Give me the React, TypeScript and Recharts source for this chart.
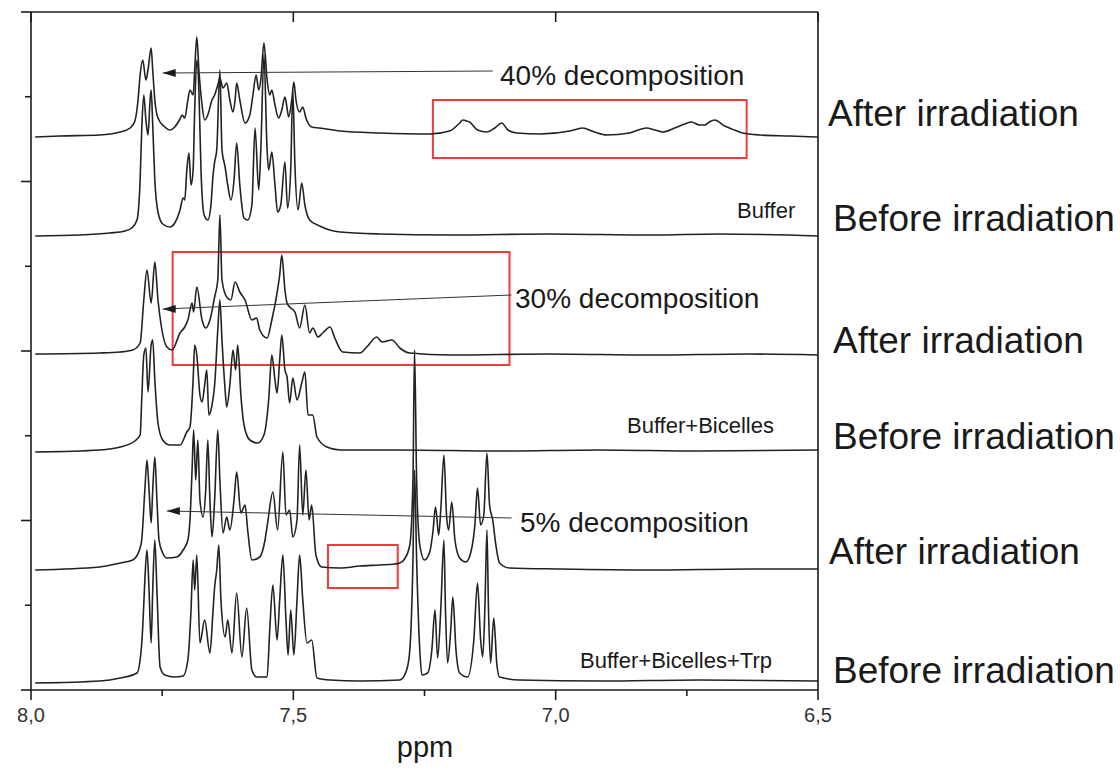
import React from "react";
import {
  LineChart,
  Line,
  XAxis,
  YAxis,
  ReferenceArea,
  ReferenceLine,
  ReferenceDot,
} from "recharts";

type Pt = [number, number];

// [chemical shift (ppm), intensity above the trace's own baseline (a.u.)]
const afterBuffer: Pt[] = [
  [7.992, 0], [7.945, 1], [7.869, 2], [7.83, 5], [7.811, 9], [7.802, 16], [7.796, 37],
  [7.792, 62], [7.787, 77], [7.781, 57], [7.777, 67], [7.771, 89], [7.768, 67], [7.764, 37],
  [7.758, 19], [7.745, 10], [7.735, 7], [7.726, 10], [7.716, 18], [7.712, 22], [7.707, 19],
  [7.701, 37], [7.697, 47], [7.691, 42], [7.688, 67], [7.684, 100], [7.68, 67], [7.674, 32],
  [7.669, 17], [7.663, 22], [7.655, 37], [7.65, 42], [7.644, 52], [7.64, 59], [7.634, 49],
  [7.627, 54], [7.621, 37], [7.615, 25], [7.611, 37], [7.608, 54], [7.602, 37], [7.592, 14],
  [7.583, 22], [7.577, 42], [7.571, 62], [7.566, 47], [7.562, 57], [7.556, 94], [7.55, 57],
  [7.545, 42], [7.541, 47], [7.535, 32], [7.528, 19], [7.522, 27], [7.516, 40], [7.512, 29],
  [7.509, 20], [7.503, 37], [7.499, 55], [7.495, 37], [7.488, 25], [7.482, 30], [7.476, 19],
  [7.465, 10], [7.45, 9], [7.411, 6], [7.335, 4], [7.24, 3], [7.202, 6], [7.183, 14],
  [7.177, 17], [7.17, 16], [7.164, 15], [7.149, 7], [7.131, 5], [7.116, 9], [7.103, 14],
  [7.091, 7], [7.074, 4], [7.03, 3], [6.973, 6], [6.949, 9], [6.926, 5], [6.903, 2],
  [6.859, 4], [6.827, 9], [6.811, 7], [6.796, 5], [6.773, 9], [6.754, 13], [6.741, 15],
  [6.726, 12], [6.716, 12], [6.707, 15], [6.697, 17], [6.678, 11], [6.659, 7], [6.644, 4],
  [6.611, 2], [6.554, 1], [6.5, 0],
];

const beforeBuffer: Pt[] = [
  [7.992, -2], [7.907, -1], [7.85, 1], [7.821, 3], [7.808, 6], [7.798, 14], [7.792, 54],
  [7.789, 104], [7.785, 139], [7.781, 114], [7.777, 99], [7.773, 134], [7.771, 144],
  [7.768, 109], [7.764, 54], [7.758, 22], [7.749, 10], [7.735, 7], [7.726, 11], [7.716, 24],
  [7.71, 36], [7.707, 34], [7.703, 64], [7.699, 81], [7.695, 49], [7.691, 64], [7.688, 124],
  [7.684, 174], [7.68, 144], [7.676, 64], [7.67, 19], [7.663, 14], [7.657, 29], [7.653, 59],
  [7.65, 72], [7.646, 84], [7.64, 164], [7.636, 84], [7.63, 67], [7.625, 49], [7.619, 34],
  [7.613, 54], [7.608, 91], [7.602, 49], [7.594, 16], [7.587, 14], [7.579, 29], [7.573, 106],
  [7.566, 44], [7.562, 84], [7.556, 179], [7.55, 84], [7.547, 64], [7.541, 82], [7.535, 49],
  [7.53, 22], [7.524, 29], [7.516, 72], [7.511, 26], [7.505, 64], [7.501, 144], [7.497, 69],
  [7.491, 24], [7.484, 51], [7.478, 29], [7.469, 14], [7.45, 8], [7.411, 2], [7.335, 0],
  [7.202, -1], [7.011, 0], [6.821, -1], [6.688, 0], [6.5, -2],
];

const afterBicelles: Pt[] = [
  [7.992, 0], [7.869, 1], [7.83, 2], [7.806, 4], [7.792, 11], [7.785, 54], [7.779, 84],
  [7.771, 51], [7.764, 92], [7.758, 54], [7.752, 29], [7.741, 7], [7.731, 4], [7.716, 21],
  [7.707, 27], [7.701, 34], [7.693, 51], [7.69, 42], [7.684, 67], [7.674, 34], [7.667, 26],
  [7.659, 34], [7.65, 57], [7.644, 74], [7.64, 139], [7.636, 74], [7.627, 57], [7.619, 54],
  [7.611, 72], [7.602, 62], [7.592, 54], [7.579, 34], [7.57, 36], [7.564, 24], [7.55, 16],
  [7.541, 34], [7.531, 61], [7.526, 79], [7.522, 99], [7.516, 64], [7.512, 51], [7.507, 47],
  [7.497, 42], [7.488, 26], [7.478, 49], [7.469, 21], [7.463, 26], [7.453, 17], [7.444, 21],
  [7.43, 27], [7.421, 16], [7.406, 2], [7.373, 1], [7.36, 7], [7.341, 17], [7.331, 12],
  [7.312, 14], [7.297, 6], [7.278, 1], [7.202, -1], [7.011, 0], [6.821, -1], [6.63, 0],
  [6.5, -1],
];

const beforeBicelles: Pt[] = [
  [7.992, -2], [7.869, 0], [7.83, 3], [7.802, 9], [7.792, 15], [7.789, 50], [7.785, 95],
  [7.781, 102], [7.777, 58], [7.771, 105], [7.768, 110], [7.764, 70], [7.758, 27],
  [7.749, 10], [7.735, 5], [7.716, 5], [7.703, 18], [7.697, 23], [7.691, 70], [7.688, 105],
  [7.684, 95], [7.678, 55], [7.674, 48], [7.669, 65], [7.665, 80], [7.661, 35], [7.655, 45],
  [7.65, 65], [7.644, 120], [7.64, 150], [7.636, 110], [7.63, 60], [7.627, 43], [7.621, 65],
  [7.615, 100], [7.61, 80], [7.606, 105], [7.6, 55], [7.594, 25], [7.583, 10], [7.568, 7],
  [7.556, 15], [7.547, 50], [7.541, 95], [7.535, 70], [7.531, 57], [7.526, 90], [7.522, 115],
  [7.516, 80], [7.512, 73], [7.507, 47], [7.501, 72], [7.493, 50], [7.484, 67], [7.478, 78],
  [7.472, 35], [7.463, 35], [7.455, 13], [7.436, 3], [7.411, 0], [7.297, 0], [7.107, -1],
  [6.916, 0], [6.726, -1], [6.5, 0],
];

const afterTrp: Pt[] = [
  [7.992, -1], [7.869, 2], [7.83, 6], [7.806, 9], [7.792, 21], [7.789, 29], [7.783, 79],
  [7.779, 109], [7.775, 79], [7.771, 46], [7.768, 79], [7.764, 112], [7.76, 69], [7.756, 29],
  [7.749, 16], [7.741, 11], [7.722, 12], [7.71, 19], [7.701, 29], [7.697, 49], [7.693, 99],
  [7.69, 139], [7.686, 89], [7.682, 129], [7.678, 69], [7.672, 52], [7.667, 79], [7.663, 129],
  [7.659, 69], [7.655, 32], [7.65, 69], [7.644, 139], [7.64, 89], [7.634, 36], [7.627, 52],
  [7.621, 39], [7.613, 69], [7.608, 97], [7.6, 56], [7.592, 64], [7.587, 39], [7.579, 9],
  [7.564, 12], [7.554, 29], [7.549, 46], [7.539, 77], [7.53, 39], [7.52, 117], [7.514, 54],
  [7.507, 59], [7.501, 32], [7.493, 49], [7.488, 124], [7.482, 54], [7.476, 99], [7.47, 49],
  [7.465, 64], [7.457, 14], [7.446, 2], [7.411, 1], [7.373, 3], [7.335, 4], [7.307, 5],
  [7.297, 6], [7.288, 10], [7.278, 24], [7.272, 89], [7.269, 219], [7.265, 89], [7.259, 24],
  [7.25, 9], [7.24, 17], [7.234, 37], [7.229, 62], [7.223, 34], [7.219, 59], [7.213, 114],
  [7.208, 54], [7.204, 39], [7.198, 67], [7.192, 29], [7.183, 11], [7.171, 7], [7.162, 16],
  [7.154, 44], [7.149, 81], [7.143, 44], [7.137, 54], [7.131, 116], [7.126, 64], [7.12, 49],
  [7.114, 24], [7.107, 6], [7.088, 1], [6.992, 0], [6.821, -1], [6.63, 0], [6.5, 0],
];

const beforeTrp: Pt[] = [
  [7.992, -1], [7.869, 1], [7.83, 4], [7.798, 9], [7.79, 32], [7.787, 55], [7.783, 102],
  [7.779, 132], [7.775, 92], [7.771, 39], [7.768, 92], [7.764, 142], [7.76, 92], [7.754, 15],
  [7.745, 7], [7.726, 5], [7.71, 6], [7.701, 22], [7.695, 72], [7.691, 122], [7.688, 92],
  [7.684, 127], [7.678, 39], [7.669, 62], [7.659, 29], [7.653, 72], [7.65, 95], [7.646, 112],
  [7.642, 137], [7.638, 82], [7.63, 45], [7.625, 62], [7.617, 29], [7.608, 89], [7.598, 25],
  [7.589, 74], [7.579, 12], [7.57, 5], [7.55, 5], [7.545, 52], [7.539, 97], [7.531, 42],
  [7.526, 82], [7.52, 127], [7.514, 62], [7.51, 27], [7.505, 72], [7.499, 27], [7.493, 82],
  [7.488, 127], [7.482, 82], [7.474, 39], [7.465, 42], [7.455, 4], [7.43, 2], [7.373, 1],
  [7.297, 2], [7.284, 12], [7.278, 32], [7.272, 122], [7.269, 212], [7.265, 122], [7.259, 32],
  [7.255, 7], [7.244, 9], [7.236, 32], [7.23, 72], [7.225, 24], [7.219, 72], [7.213, 142],
  [7.21, 72], [7.206, 19], [7.2, 52], [7.196, 85], [7.19, 32], [7.183, 9], [7.168, 5],
  [7.156, 42], [7.149, 99], [7.143, 42], [7.139, 25], [7.135, 72], [7.131, 152], [7.128, 72],
  [7.124, 19], [7.118, 64], [7.112, 17], [7.107, 5], [7.069, 2], [6.916, 1], [6.726, 2],
  [6.5, 1],
];

const traceSeries: Pt[][] = [afterBuffer, beforeBuffer, afterBicelles, beforeBicelles, afterTrp, beforeTrp];
const traceOffsets = [553, 456, 336, 240, 121, 8];

const xTicks = [8, 7.75, 7.5, 7.25, 7, 6.75, 6.5];
const xMajor = [8, 7.5, 7, 6.5];
const yTicks = [0, 84.75, 169.5, 254.25, 339, 423.75, 508.5, 593.25, 678];

const sideLabels = [
  "After irradiation", "Before irradiation", "After irradiation",
  "Before irradiation", "After irradiation", "Before irradiation",
];
const sampleLabels = ["Buffer", "Buffer+Bicelles", "Buffer+Bicelles+Trp"];

// arrows: [ppm, intensity] tail -> tip
const arrows = [
  { text: "40% decomposition", from: [7.12, 619], to: [7.749, 617] },
  { text: "30% decomposition", from: [7.084, 395], to: [7.749, 381] },
  { text: "5% decomposition", from: [7.084, 172], to: [7.741, 179] },
];

const boxes = [
  { x1: 7.234, x2: 6.636, y1: 532, y2: 590 },
  { x1: 7.73, x2: 7.088, y1: 325, y2: 438 },
  { x1: 7.434, x2: 7.301, y1: 102, y2: 145 },
];

const FONT = "'Liberation Sans', Arial, Helvetica, sans-serif";
const INK = "#1c1c1c";

const fmt = (v: number) => v.toFixed(1).replace(".", ",");

const XTick = (props: any) => {
  const { x, y, payload } = props;
  const major = xMajor.some((m) => Math.abs(m - payload.value) < 1e-6);
  return (
    <g>
      <line x1={x} x2={x} y1={y} y2={y + (major ? 10 : 6)} stroke={INK} strokeWidth={1.6} />
      {major && (
        <text x={x} y={y + 32} textAnchor="middle" fontSize={20} fontFamily={FONT} fill="#333">
          {fmt(payload.value)}
        </text>
      )}
    </g>
  );
};

const TopTick = (props: any) => {
  const { x, y } = props;
  return <line x1={x} x2={x} y1={y} y2={y + 10} stroke={INK} strokeWidth={1.6} />;
};

const YTick = (props: any) => {
  const { x, y, index } = props;
  const len = index % 2 === 0 ? 10 : 6;
  return <line x1={x - len} x2={x} y1={y} y2={y} stroke={INK} strokeWidth={1.6} />;
};

const ArrowHead = (props: any) => {
  const { cx, cy } = props;
  if (cx == null || cy == null) return null;
  return <polygon points={`${cx},${cy} ${cx + 13},${cy - 4} ${cx + 13},${cy + 4}`} fill={INK} />;
};

export default function App() {
  const lines = traceSeries.map((pts, i) =>
    pts.map(([ppm, h]) => ({ ppm, v: traceOffsets[i] + h }))
  );

  return (
    <div style={{ position: "absolute", left: 0, top: 0, width: 1120, height: 774, background: "#fff" }}>
      <LineChart width={1120} height={774} margin={{ top: 11, right: 301, bottom: 0, left: 0 }}>
        <XAxis
          dataKey="ppm"
          type="number"
          domain={[6.5, 8]}
          reversed
          allowDataOverflow
          ticks={xTicks}
          interval={0}
          height={84}
          tickSize={0}
          tickMargin={0}
          tickLine={false}
          tick={<XTick />}
          axisLine={{ stroke: INK, strokeWidth: 1.6 }}
        />
        <XAxis
          xAxisId="top"
          orientation="top"
          dataKey="ppm"
          type="number"
          domain={[6.5, 8]}
          reversed
          allowDataOverflow
          ticks={xMajor}
          interval={0}
          height={1}
          tickSize={0}
          tickMargin={0}
          tickLine={false}
          tick={<TopTick />}
          axisLine={{ stroke: INK, strokeWidth: 1.6 }}
        />
        <YAxis
          type="number"
          domain={[0, 678]}
          allowDataOverflow
          ticks={yTicks}
          interval={0}
          width={31}
          tickSize={0}
          tickMargin={0}
          tickLine={false}
          tick={<YTick />}
          axisLine={{ stroke: INK, strokeWidth: 1.6 }}
        />
        <YAxis
          yAxisId="right"
          orientation="right"
          type="number"
          domain={[0, 678]}
          allowDataOverflow
          width={1}
          tick={false}
          tickLine={false}
          axisLine={{ stroke: INK, strokeWidth: 1.6 }}
        />
        {boxes.map((b, i) => (
          <ReferenceArea
            key={`box${i}`}
            x1={b.x1}
            x2={b.x2}
            y1={b.y1}
            y2={b.y2}
            fill="none"
            fillOpacity={0}
            stroke="#ee3b3b"
            strokeWidth={2}
            ifOverflow="visible"
          />
        ))}
        {lines.map((data, i) => (
          <Line
            key={`trace${i}`}
            data={data}
            dataKey="v"
            type="monotone"
            stroke="#222"
            strokeWidth={1.6}
            dot={false}
            activeDot={false}
            isAnimationActive={false}
          />
        ))}
        {arrows.map((a, i) => (
          <ReferenceLine
            key={`arr${i}`}
            segment={[
              { x: a.from[0], y: a.from[1] },
              { x: a.to[0], y: a.to[1] },
            ]}
            stroke="#333"
            strokeWidth={1}
            ifOverflow="visible"
          />
        ))}
        {arrows.map((a, i) => (
          <ReferenceDot
            key={`head${i}`}
            x={a.to[0]}
            y={a.to[1]}
            r={4}
            shape={<ArrowHead />}
            ifOverflow="visible"
          />
        ))}
      </LineChart>
      <svg
        width={1120}
        height={774}
        style={{ position: "absolute", left: 0, top: 0, pointerEvents: "none" }}
        fontFamily={FONT}
        fill="#1a1a1a"
      >
        <text x={500} y={85} fontSize={28}>{arrows[0].text}</text>
        <text x={515} y={308} fontSize={28}>{arrows[1].text}</text>
        <text x={520} y={532} fontSize={28}>{arrows[2].text}</text>
        <text x={737} y={218} fontSize={22}>{sampleLabels[0]}</text>
        <text x={627} y={433} fontSize={22}>{sampleLabels[1]}</text>
        <text x={580} y={668} fontSize={22}>{sampleLabels[2]}</text>
        {[126, 231, 353, 449, 564, 683].map((by, i) => (
          <text key={i} x={[828, 833, 833, 833, 829, 833][i]} y={by} fontSize={37}>
            {sideLabels[i]}
          </text>
        ))}
        <text x={425} y={757} fontSize={29} textAnchor="middle">ppm</text>
      </svg>
    </div>
  );
}
